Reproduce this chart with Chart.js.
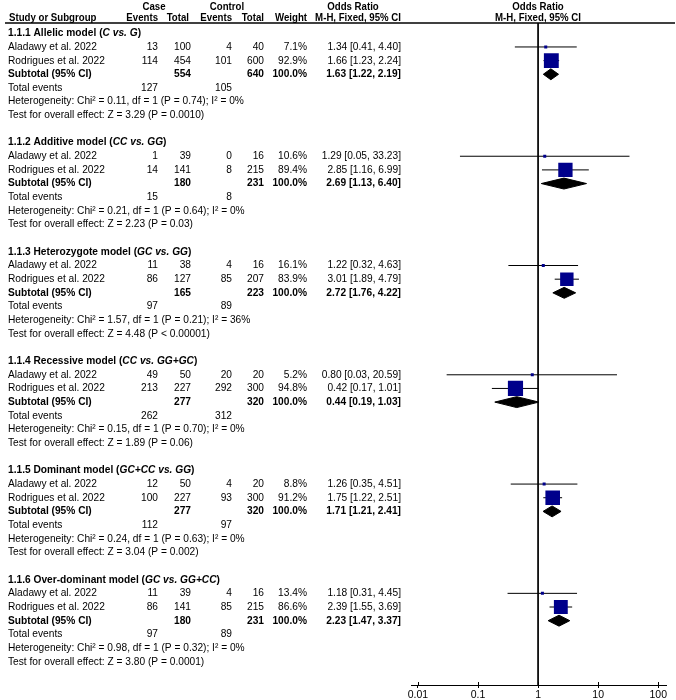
<!DOCTYPE html>
<html>
<head>
<meta charset="utf-8">
<script src="https://cdn.jsdelivr.net/npm/chart.js@4.4.1/dist/chart.umd.min.js"></script>
<style>
  html, body { margin: 0; padding: 0; background: #fff; }
  #forest { display: block; }
</style>
</head>
<body>
<canvas id="forest" width="676" height="700"></canvas>
<script>
// ---- data ----
const subgroupTitles = ["1.1.1 Allelic model", "1.1.2 Additive model", "1.1.3 Heterozygote model",
  "1.1.4 Recessive model", "1.1.5 Dominant model", "1.1.6 Over-dominant model"];
const comparisons = ["C vs. G", "CC vs. GG", "GC vs. GG", "CC vs. GG+GC", "GC+CC vs. GG", "GC vs. GG+CC"];
const studies = ["Aladawy et al. 2022", "Rodrigues et al. 2022"];

const caseEvents = [[13, 114], [1, 14], [11, 86], [49, 213], [12, 100], [11, 86]];
const caseTotal = [[100, 454], [39, 141], [38, 127], [50, 227], [50, 227], [39, 141]];
const ctrlEvents = [[4, 101], [0, 8], [4, 85], [20, 292], [4, 93], [4, 85]];
const ctrlTotal = [[40, 600], [16, 215], [16, 207], [20, 300], [20, 300], [16, 215]];
const weights = [[7.1, 92.9], [10.6, 89.4], [16.1, 83.9], [5.2, 94.8], [8.8, 91.2], [13.4, 86.6]];
const orEst = [[1.34, 1.66], [1.29, 2.85], [1.22, 3.01], [0.80, 0.42], [1.26, 1.75], [1.18, 2.39]];
const orLo = [[0.41, 1.23], [0.05, 1.16], [0.32, 1.89], [0.03, 0.17], [0.35, 1.22], [0.31, 1.55]];
const orHi = [[4.40, 2.24], [33.23, 6.99], [4.63, 4.79], [20.59, 1.01], [4.51, 2.51], [4.45, 3.69]];

const subCaseTotal = [554, 180, 165, 277, 277, 180];
const subCtrlTotal = [640, 231, 223, 320, 320, 231];
const subEst = [1.63, 2.69, 2.72, 0.44, 1.71, 2.23];
const subLo = [1.22, 1.13, 1.76, 0.19, 1.21, 1.47];
const subHi = [2.19, 6.40, 4.22, 1.03, 2.41, 3.37];
const totalCaseEvents = [127, 15, 97, 262, 112, 97];
const totalCtrlEvents = [105, 8, 89, 312, 97, 89];
const chi2 = [0.11, 0.21, 1.57, 0.15, 0.24, 0.98];
const hetP = [0.74, 0.64, 0.21, 0.70, 0.63, 0.32];
const iSquared = [0, 0, 36, 0, 0, 0];
const zValue = [3.29, 2.23, 4.48, 1.89, 3.04, 3.80];
const zPText = ["P = 0.0010", "P = 0.03", "P < 0.00001", "P = 0.06", "P = 0.002", "P = 0.0001"];

const xTicks = [0.01, 0.1, 1, 10, 100];

// ---- layout ----
const ROWS_PER_GROUP = 8;
const Y_MIN = -0.754;
const Y_MAX = 47.71;
const FONT = '"Liberation Sans", Arial, sans-serif';
const FS = 10.5;
const SQUARE_BLUE = "#00008b";

function rowOf(g, kind) {
  const off = { header: 0, s0: 1, s1: 2, sub: 3, events: 4, het: 5, test: 6 }[kind];
  return g * ROWS_PER_GROUP + off;
}

function fmt2(v) { return Number(v).toFixed(2); }
function ciText(e, l, h) { return `${fmt2(e)} [${fmt2(l)}, ${fmt2(h)}]`; }

// ---- datasets ----
const datasets = [];

// line of no effect
datasets.push({
  data: [{ x: 1, y: Y_MIN }, { x: 1, y: Y_MAX }],
  borderColor: "#000", borderWidth: 1, pointRadius: 0, order: 5,
});

// study confidence intervals
subgroupTitles.forEach((_, g) => {
  studies.forEach((_, s) => {
    const r = rowOf(g, s === 0 ? "s0" : "s1");
    datasets.push({
      data: [{ x: orLo[g][s], y: r }, { x: orHi[g][s], y: r }],
      borderColor: "#000", borderWidth: 1, pointRadius: 0, order: 3,
    });
  });
});

// weighted squares
const squarePts = [];
const squareSides = [];
subgroupTitles.forEach((_, g) => {
  studies.forEach((_, s) => {
    squarePts.push({ x: orEst[g][s], y: rowOf(g, s === 0 ? "s0" : "s1") });
    squareSides.push(Math.max(3, 0.16 * weights[g][s]));
  });
});
datasets.push({
  data: squarePts,
  showLine: false,
  pointStyle: "rect",
  pointRadius: squareSides.map((d) => d / (2 * Math.SQRT1_2)),
  pointBackgroundColor: SQUARE_BLUE,
  pointBorderColor: SQUARE_BLUE,
  pointBorderWidth: 0,
  order: 1,
});

// subtotal diamonds
const DH = 0.4;
subgroupTitles.forEach((_, g) => {
  const r = rowOf(g, "sub");
  datasets.push({
    data: [
      { x: subLo[g], y: r }, { x: subEst[g], y: r - DH },
      { x: subHi[g], y: r }, { x: subEst[g], y: r + DH }, { x: subLo[g], y: r },
    ],
    borderColor: "#000", backgroundColor: "#000", borderWidth: 1,
    pointRadius: 0, fill: "shape", order: 2,
  });
});

// ---- table text ----
// sx squeezes the glyphs a little, the original type is narrower than Liberation Sans
function put(ctx, str, x, y, align, weight, style, sx) {
  sx = sx || 0.97;
  ctx.font = `${style || "normal"} ${weight || "normal"} ${FS}px ${FONT}`;
  ctx.textAlign = align || "left";
  ctx.save();
  ctx.translate(x, y);
  ctx.scale(sx, 1);
  ctx.fillText(str, 0, 0);
  ctx.restore();
  return ctx.measureText(str).width * sx;
}

const tablePlugin = {
  id: "forestTable",
  afterDraw(chart) {
    const ctx = chart.ctx;
    const ys = chart.scales.y;
    const xs = chart.scales.x;
    const py = (r) => ys.getPixelForValue(r);
    ctx.save();
    ctx.fillStyle = "#000";
    ctx.textBaseline = "middle";

    // tick marks poke above the axis too
    ctx.strokeStyle = "#000";
    ctx.lineWidth = 1;
    xTicks.forEach((v) => {
      const x = Math.round(xs.getPixelForValue(v)) + 0.5;
      ctx.beginPath();
      ctx.moveTo(x, xs.top - 3);
      ctx.lineTo(x, xs.top);
      ctx.stroke();
    });

    // column headers
    const HB = 0.92;
    put(ctx, "Case", 154, 7, "center", "bold", null, HB);
    put(ctx, "Control", 227, 7, "center", "bold", null, HB);
    put(ctx, "Odds Ratio", 353, 7, "center", "bold", null, HB);
    put(ctx, "Odds Ratio", 538, 7, "center", "bold", null, HB);
    put(ctx, "Study or Subgroup", 9, 18, "left", "bold", null, HB);
    put(ctx, "Events", 158, 18, "right", "bold", null, HB);
    put(ctx, "Total", 189, 18, "right", "bold", null, HB);
    put(ctx, "Events", 232, 18, "right", "bold", null, HB);
    put(ctx, "Total", 264, 18, "right", "bold", null, HB);
    put(ctx, "Weight", 307, 18, "right", "bold", null, HB);
    put(ctx, "M-H, Fixed, 95% CI", 401, 18, "right", "bold", null, HB);
    put(ctx, "M-H, Fixed, 95% CI", 538, 18, "center", "bold", null, HB);

    ctx.lineWidth = 1.5;
    ctx.beginPath();
    ctx.moveTo(5, 23);
    ctx.lineTo(675, 23);
    ctx.stroke();

    subgroupTitles.forEach((title, g) => {
      let y = py(rowOf(g, "header"));
      let x = 8;
      x += put(ctx, title + " (", x, y, "left", "bold");
      x += put(ctx, comparisons[g], x, y, "left", "bold", "italic");
      put(ctx, ")", x, y, "left", "bold");

      studies.forEach((name, s) => {
        y = py(rowOf(g, s === 0 ? "s0" : "s1"));
        put(ctx, name, 8, y);
        put(ctx, String(caseEvents[g][s]), 158, y, "right");
        put(ctx, String(caseTotal[g][s]), 191, y, "right");
        put(ctx, String(ctrlEvents[g][s]), 232, y, "right");
        put(ctx, String(ctrlTotal[g][s]), 264, y, "right");
        put(ctx, weights[g][s].toFixed(1) + "%", 307, y, "right");
        put(ctx, ciText(orEst[g][s], orLo[g][s], orHi[g][s]), 401, y, "right");
      });

      y = py(rowOf(g, "sub"));
      put(ctx, "Subtotal (95% CI)", 8, y, "left", "bold");
      put(ctx, String(subCaseTotal[g]), 191, y, "right", "bold");
      put(ctx, String(subCtrlTotal[g]), 264, y, "right", "bold");
      put(ctx, "100.0%", 307, y, "right", "bold");
      put(ctx, ciText(subEst[g], subLo[g], subHi[g]), 401, y, "right", "bold");

      y = py(rowOf(g, "events"));
      put(ctx, "Total events", 8, y);
      put(ctx, String(totalCaseEvents[g]), 158, y, "right");
      put(ctx, String(totalCtrlEvents[g]), 232, y, "right");

      y = py(rowOf(g, "het"));
      put(ctx, `Heterogeneity: Chi\u00b2 = ${fmt2(chi2[g])}, df = 1 (P = ${fmt2(hetP[g])}); I\u00b2 = ${iSquared[g]}%`, 8, y);

      y = py(rowOf(g, "test"));
      put(ctx, `Test for overall effect: Z = ${fmt2(zValue[g])} (${zPText[g]})`, 8, y);
    });
    ctx.restore();
  },
};

new Chart(document.getElementById("forest"), {
  type: "line",
  data: { datasets },
  options: {
    responsive: false,
    animation: false,
    events: [],
    layout: { padding: { left: 411, right: 9, top: 23, bottom: 0 } },
    elements: { line: { tension: 0 } },
    plugins: { legend: { display: false }, tooltip: { enabled: false } },
    scales: {
      x: {
        type: "logarithmic",
        min: 0.00765,
        max: 135.8,
        afterBuildTicks(scale) {
          scale.ticks = xTicks.map((v) => ({ value: v }));
        },
        afterFit(scale) { scale.height = 15; },
        border: { display: true, color: "#000", width: 1 },
        grid: { drawOnChartArea: false, drawTicks: true, tickLength: 3, color: "#000" },
        ticks: {
          autoSkip: false,
          maxRotation: 0,
          padding: 1,
          color: "#000",
          font: { family: FONT, size: FS },
          callback: (v) => String(v),
        },
      },
      y: {
        type: "linear",
        display: false,
        reverse: true,
        min: Y_MIN,
        max: Y_MAX,
      },
    },
  },
  plugins: [tablePlugin],
});
</script>
</body>
</html>
